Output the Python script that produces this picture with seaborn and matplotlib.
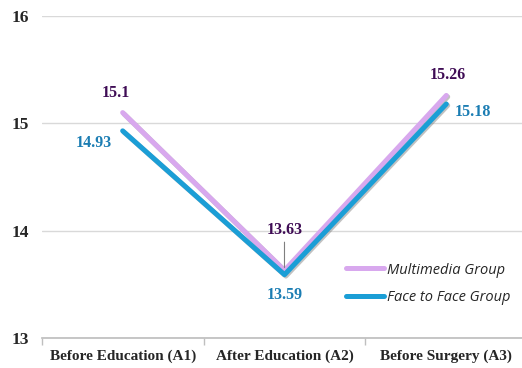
import pandas as pd
import matplotlib
matplotlib.use("Agg")
import matplotlib.pyplot as plt
import matplotlib.patheffects as pe
import seaborn as sns

# data
stages = ["Before Education (A1)", "After Education (A2)", "Before Surgery (A3)"]
multimedia = [15.1, 13.63, 15.26]
face_to_face = [14.93, 13.59, 15.18]
groups = ["Multimedia Group", "Face to Face Group"]

df = pd.DataFrame({
    "stage": stages * 2,
    "score": multimedia + face_to_face,
    "group": [groups[0]] * 3 + [groups[1]] * 3,
})

sns.set_theme(style="white")
plt.rcParams['font.family'] = ['Liberation Serif', 'DejaVu Serif']

colors = {"Multimedia Group": "#d8a8ee", "Face to Face Group": "#1b9ed6"}
label_colors = {"Multimedia Group": "#3f0c55", "Face to Face Group": "#1b7db3"}

fig = plt.figure(figsize=(5.22, 3.68), dpi=100)
ax = fig.add_axes([0.08, 0.0815, 0.93, 0.875])

sns.lineplot(data=df, x="stage", y="score", hue="group", palette=colors,
             linewidth=3.6, sort=False, ax=ax, legend=True)
for line in ax.lines:
    line.set_path_effects([pe.SimpleLineShadow(offset=(1.0, -1.0), shadow_color="#777777", alpha=0.45),
                           pe.Normal()])
    line.set_solid_capstyle("round")

ax.set_ylim(13, 16)
ax.set_xlim(-0.5, 2.5)
ax.set_yticks([13, 14, 15, 16])
ax.set_yticklabels(["13", "14", "15", "16"], fontsize=12.5, fontweight="bold")
ax.set_xticks(range(len(stages)))
ax.set_xticklabels(stages, fontsize=11, fontweight="bold")
ax.set_xticks([-0.5, 0.5, 1.5, 2.5], minor=True)
ax.tick_params(axis="x", which="major", length=0, pad=8)
ax.tick_params(axis="x", which="minor", length=5, color="#bfbfbf", width=1, direction="out", bottom=True)
ax.tick_params(axis="y", length=0, pad=9)
ax.yaxis.grid(True, color="#d9d9d9", linewidth=1)
ax.set_axisbelow(True)
for s in ["top", "right", "left"]:
    ax.spines[s].set_visible(False)
ax.spines["bottom"].set_color("#bfbfbf")
ax.set_xlabel("")
ax.set_ylabel("")

# value labels (offsets in pixels)
offsets = {
    "Multimedia Group": [(-7, 20), (0, 40), (2, 20)],
    "Face to Face Group": [(-29, -12), (0, -20), (27, -8)],
}
series = {"Multimedia Group": multimedia, "Face to Face Group": face_to_face}
for g in groups:
    for i, v in enumerate(series[g]):
        ax.annotate(f"{v:g}", xy=(i, v), xytext=offsets[g][i], textcoords="offset pixels",
                    ha="center", va="center", fontsize=11.5, fontweight="bold",
                    color=label_colors[g])

# leader line for the 13.63 label
ax.annotate("", xy=(1, multimedia[1]), xytext=(0, 31), textcoords="offset pixels",
            arrowprops=dict(arrowstyle="-", color="#7f7f7f", lw=0.8))

leg = ax.legend(loc="upper left", bbox_to_anchor=(0.60, 0.275), frameon=False,
                handlelength=2.6, handletextpad=0.2, labelspacing=0.85,
                prop={"family": "Open Sans", "style": "italic", "size": 10.5})
for h in leg.get_lines():
    h.set_linewidth(3.6)
    h.set_path_effects([])

fig.savefig("out.png", dpi=100)
